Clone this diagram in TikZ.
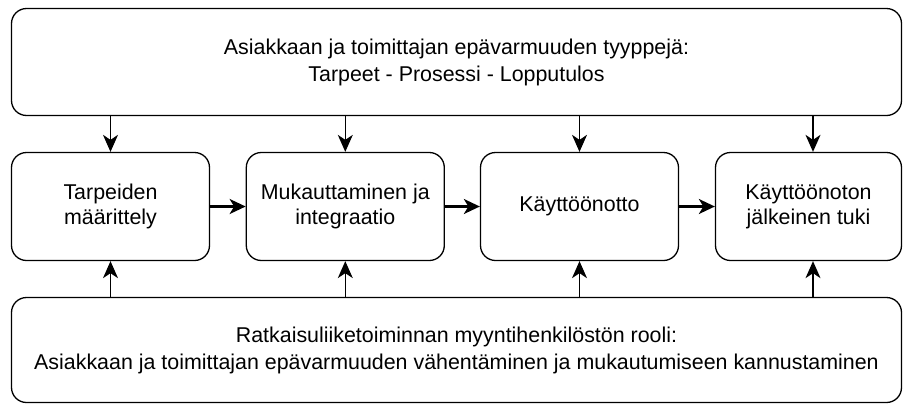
\documentclass[tikz,border=0pt]{standalone}
\usepackage{fontspec}
\setmainfont{Liberation Sans}
\usetikzlibrary{arrows.meta}
\begin{document}
\begin{tikzpicture}[x=1pt,y=-1pt,
  box/.style={draw, line width=1.3pt, rounded corners=15pt, align=center, inner sep=0pt,
    font=\fontsize{21.4}{27}\selectfont},
  midbox/.style={box, minimum height=108pt, font=\fontsize{21.4}{25}\selectfont},
  varrow/.style={draw, line width=1.3pt, -{Stealth[length=17pt,width=15pt,inset=5pt]}},
  harrow/.style={draw, line width=2.2pt, -{Stealth[length=16pt,width=15pt,inset=4.5pt]}}]
\useasboundingbox (0,0) rectangle (903,405);
\node[box, minimum width=890pt, minimum height=107pt] (top) at (456.5,62)
  {Asiakkaan ja toimittajan epävarmuuden tyyppejä:\\Tarpeet - Prosessi - Lopputulos};
\node[midbox, minimum width=198pt] (b1) at (110.5,206.5) {Tarpeiden\\määrittely};
\node[midbox, minimum width=198pt] (b2) at (345.3,206.5) {Mukauttaminen ja\\integraatio};
\node[midbox, minimum width=198pt] (b3) at (579.5,206.5) {Käyttöönotto};
\node[midbox, minimum width=186pt] (b4) at (808.5,206.5) {Käyttöönoton\\jälkeinen tuki};
\node[box, minimum width=890pt, minimum height=105pt] (bot) at (456.5,350)
  {Ratkaisuliiketoiminnan myyntihenkilöstön rooli:\\Asiakkaan ja toimittajan epävarmuuden vähentäminen ja mukautumiseen kannustaminen};
\coordinate (t4) at ([xshift=4.5pt]b4.north);
\coordinate (u4) at ([xshift=4.5pt]b4.south);
\foreach \b in {b1,b2,b3}{
  \draw[varrow] (top.south -| \b.north) -- (\b.north);
  \draw[varrow] (bot.north -| \b.south) -- (\b.south);
}
\draw[varrow] (top.south -| t4) -- (t4);
\draw[varrow] (bot.north -| u4) -- (u4);
\draw[harrow] (b1.east) -- (b2.west);
\draw[harrow] (b2.east) -- (b3.west);
\draw[harrow] (b3.east) -- (b4.west);
\end{tikzpicture}
\end{document}
